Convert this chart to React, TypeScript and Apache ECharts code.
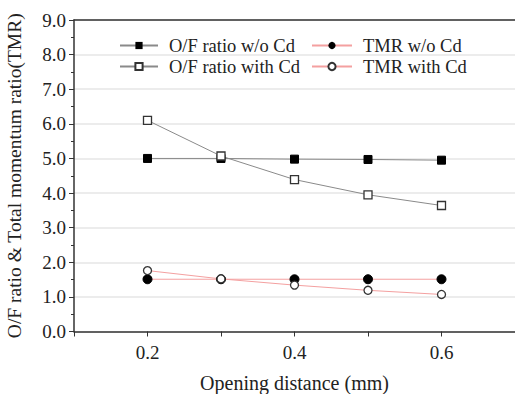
import React, { useEffect, useRef } from "react";
import * as echarts from "echarts";

const xValues = [0.2, 0.3, 0.4, 0.5, 0.6];
const ofWithout = [5.0, 5.0, 4.98, 4.97, 4.95];
const ofWith = [6.1, 5.07, 4.39, 3.95, 3.64];
const tmrWithout = [1.51, 1.51, 1.51, 1.51, 1.51];
const tmrWith = [1.76, 1.52, 1.34, 1.19, 1.07];
const seriesNames = ["O/F ratio w/o Cd", "O/F ratio with Cd", "TMR w/o Cd", "TMR with Cd"];

const pair = (ys: number[]) => xValues.map((x, i) => [x, ys[i]]);

export default function App() {
  const ref = useRef<HTMLDivElement>(null);
  useEffect(() => {
    const chart = echarts.init(ref.current!, null, { renderer: "svg" });
    const font = "'Liberation Serif', 'Times New Roman', serif";
    const gray = "#8a8a8a";
    const pink = "#f4a0a0";
    const legendText = { fontFamily: font, fontSize: 18.5, color: "#222", padding: [0, 0, 0, 6] };
    chart.setOption({
      animation: false,
      backgroundColor: "#fff",
      textStyle: { fontFamily: font },
      grid: { left: 74, top: 20, right: 0, bottom: 62.5, containLabel: false, outerBoundsMode: "none" },
      legend: [
        {
          data: [seriesNames[0], seriesNames[1]],
          orient: "vertical",
          left: 114,
          top: 31,
          itemWidth: 38,
          itemHeight: 9,
          itemGap: 2,
          textStyle: legendText,
        },
        {
          data: [seriesNames[2], seriesNames[3]],
          orient: "vertical",
          left: 306,
          top: 31,
          itemWidth: 40,
          itemHeight: 9,
          itemGap: 2,
          textStyle: legendText,
        },
      ],
      xAxis: [
        {
          type: "value",
          min: 0.1,
          max: 0.7,
          interval: 0.1,
          name: "Opening distance (mm)",
          nameLocation: "middle",
          nameGap: 41,
          nameTextStyle: { fontFamily: font, fontSize: 20, color: "#222" },
          axisLine: { show: true, lineStyle: { color: "#333", width: 1.5 } },
          axisTick: { show: true, length: 5, lineStyle: { color: "#333" } },
          axisLabel: {
            fontFamily: font,
            fontSize: 19,
            color: "#222",
            margin: 11,
            formatter: (v: number) => {
              const r = Math.round(v * 10);
              return r === 2 || r === 4 || r === 6 ? (r / 10).toFixed(1) : "";
            },
          },
          splitLine: { show: false },
        },
        {
          type: "value",
          position: "top",
          min: 0.1,
          max: 0.7,
          axisLine: { show: true, lineStyle: { color: "#333", width: 1.5 } },
          axisTick: { show: false },
          axisLabel: { show: false },
          splitLine: { show: false },
        },
      ],
      yAxis: {
        type: "value",
        min: 0,
        max: 9,
        interval: 1,
        name: "O/F ratio & Total momentum ratio(TMR)",
        nameLocation: "middle",
        nameGap: 50,
        nameTextStyle: { fontFamily: font, fontSize: 19.5, color: "#222" },
        axisLine: { show: true, lineStyle: { color: "#333", width: 1.5 } },
        axisTick: { show: true, length: 5, lineStyle: { color: "#333" } },
        minorTick: { show: true, splitNumber: 2, length: 3, lineStyle: { color: "#333" } },
        axisLabel: {
          fontFamily: font,
          fontSize: 19,
          color: "#222",
          margin: 8,
          formatter: (v: number) => v.toFixed(1),
        },
        splitLine: { show: true, lineStyle: { color: "#e6e6e6", width: 1.5 } },
      },
      series: [
        {
          name: seriesNames[0],
          type: "line",
          data: pair(ofWithout),
          symbol: "rect",
          symbolSize: 8,
          itemStyle: { color: "#000", borderColor: "#000" },
          lineStyle: { color: gray, width: 1 },
        },
        {
          name: seriesNames[1],
          type: "line",
          data: pair(ofWith),
          symbol: "rect",
          symbolSize: 8,
          itemStyle: { color: "#fff", borderColor: "#333", borderWidth: 1.3 },
          lineStyle: { color: gray, width: 1 },
        },
        {
          name: seriesNames[2],
          type: "line",
          data: pair(tmrWithout),
          symbol: "circle",
          symbolSize: 9,
          itemStyle: { color: "#000", borderColor: "#000" },
          lineStyle: { color: pink, width: 1 },
        },
        {
          name: seriesNames[3],
          type: "line",
          data: pair(tmrWith),
          symbol: "circle",
          symbolSize: 8,
          itemStyle: { color: "#fff", borderColor: "#333", borderWidth: 1.3 },
          lineStyle: { color: pink, width: 1 },
        },
      ],
    });
    return () => chart.dispose();
  }, []);
  return <div ref={ref} style={{ width: 515, height: 394, position: "fixed", left: 0, top: 0 }} />;
}
